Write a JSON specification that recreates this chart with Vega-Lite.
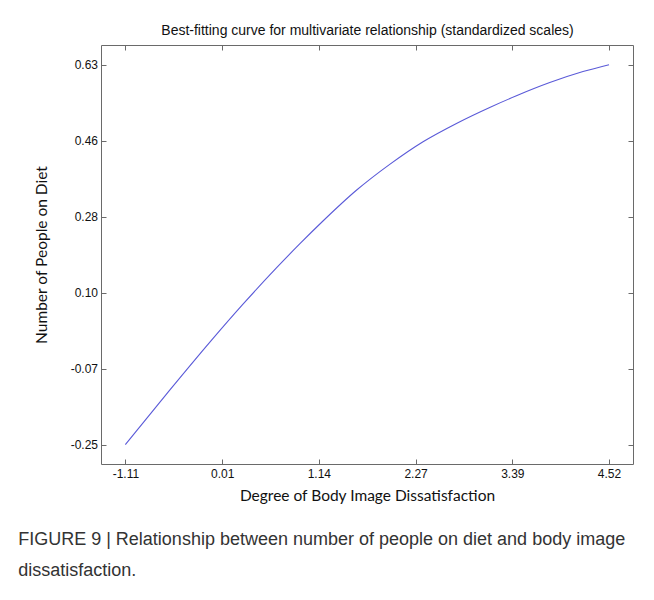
{
  "$schema": "https://vega.github.io/schema/vega-lite/v6.json",
  "width": 532,
  "height": 419,
  "autosize": {"type": "none"},
  "padding": {"left": 101, "top": 45, "right": 21, "bottom": 136},
  "background": "white",
  "title": {
    "text": ["FIGURE 9 | Relationship between number of people on diet and body image", "dissatisfaction."],
    "orient": "bottom",
    "anchor": "start",
    "frame": "bounds",
    "font": "Liberation Sans",
    "fontSize": 18,
    "fontWeight": "normal",
    "color": "#333333",
    "lineHeight": 31,
    "offset": 27,
    "dx": -16
  },
  "data": {
    "values": [
      {"x": -1.11, "y": -0.25},
      {"x": -0.594, "y": -0.124},
      {"x": -0.129, "y": -0.0133},
      {"x": 0.259, "y": 0.0752},
      {"x": 0.648, "y": 0.1592},
      {"x": 0.919, "y": 0.2148},
      {"x": 1.19, "y": 0.2679},
      {"x": 1.579, "y": 0.3391},
      {"x": 1.967, "y": 0.3992},
      {"x": 2.355, "y": 0.4516},
      {"x": 2.744, "y": 0.494},
      {"x": 3.131, "y": 0.531},
      {"x": 3.442, "y": 0.558},
      {"x": 3.83, "y": 0.5885},
      {"x": 4.217, "y": 0.614},
      {"x": 4.52, "y": 0.63}
    ]
  },
  "layer": [
    {
      "mark": {"type": "line", "color": "#5a5ad8", "strokeWidth": 1.1, "interpolate": "monotone"},
      "encoding": {
        "x": {
          "field": "x", "type": "quantitative",
          "scale": {"domain": [-1.394, 4.799], "nice": false, "zero": false},
          "axis": {
            "orient": "bottom",
            "values": [-1.11, 0.016, 1.142, 2.268, 3.394, 4.52],
            "labelExpr": "datum.value < -1 ? '-1.11' : datum.value < 0.5 ? '0.01' : datum.value < 1.5 ? '1.14' : datum.value < 2.5 ? '2.27' : datum.value < 4 ? '3.39' : '4.52'",
            "title": "Degree of Body Image Dissatisfaction",
            "titleFont": "Lato",
            "titleFontSize": 15.5,
            "titleFontWeight": "normal",
            "titleColor": "#111111",
            "titlePadding": 9,
            "labelPadding": 9.5,
            "grid": false
          }
        },
        "y": {
          "field": "y", "type": "quantitative",
          "scale": {"domain": [-0.2949, 0.6756], "nice": false, "zero": false},
          "axis": {
            "orient": "left",
            "values": [-0.25, -0.074, 0.102, 0.278, 0.454, 0.63],
            "labelExpr": "datum.value < -0.2 ? '-0.25' : datum.value < 0 ? '-0.07' : datum.value < 0.2 ? '0.10' : datum.value < 0.35 ? '0.28' : datum.value < 0.55 ? '0.46' : '0.63'",
            "title": "Number of People on Diet",
            "titleFont": "Lato",
            "titleFontSize": 15.5,
            "titleFontWeight": "normal",
            "titleColor": "#111111",
            "titlePadding": 21,
            "labelPadding": 8.5,
            "grid": false
          }
        }
      }
    },
    {
      "mark": {"type": "line", "strokeOpacity": 0},
      "encoding": {
        "x": {
          "field": "x", "type": "quantitative",
          "scale": {"domain": [-1.394, 4.799], "nice": false, "zero": false},
          "axis": {
            "orient": "top",
            "values": [-1.11, 0.016, 1.142, 2.268, 3.394, 4.52],
            "labels": false,
            "title": "Best-fitting curve for multivariate relationship (standardized scales)",
            "titleFont": "Liberation Sans",
            "titleFontSize": 14,
            "titleFontWeight": "normal",
            "titleColor": "#111111",
            "titlePadding": 7,
            "grid": false
          }
        },
        "y": {
          "field": "y", "type": "quantitative",
          "scale": {"domain": [-0.2949, 0.6756], "nice": false, "zero": false},
          "axis": {
            "orient": "right",
            "values": [-0.25, -0.074, 0.102, 0.278, 0.454, 0.63],
            "labels": false,
            "title": null,
            "grid": false
          }
        }
      }
    }
  ],
  "resolve": {"axis": {"x": "independent", "y": "independent"}},
  "config": {
    "view": {"stroke": "#6a6a6a", "strokeWidth": 1},
    "axis": {
      "domain": false,
      "tickSize": -5,
      "tickColor": "#6a6a6a",
      "tickWidth": 1,
      "labelFont": "Liberation Sans",
      "labelFontSize": 12,
      "labelColor": "#111111",
      "labelOverlap": false,
      "labelFlush": false
    }
  }
}
